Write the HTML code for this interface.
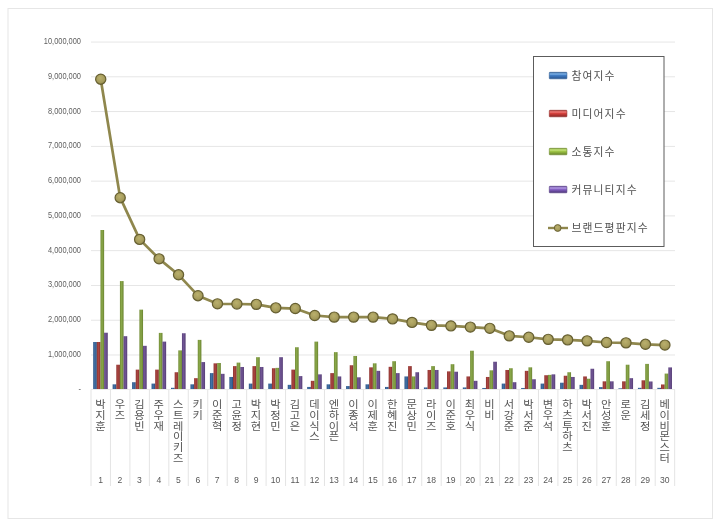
<!DOCTYPE html>
<html lang="ko"><head><meta charset="utf-8"><title>브랜드평판지수</title>
<style>
html,body{margin:0;padding:0;background:#fff;}
body{width:720px;height:526px;overflow:hidden;}
svg{display:block;}
text{font-family:"Liberation Sans","Noto Sans CJK KR","NanumGothic",sans-serif;}
.ax{font-size:7.45px;fill:#5e5e5e;}
.num{font-size:8.6px;fill:#595959;}
.nm{font-size:10px;fill:#555555;}
.lg{font-size:10.8px;fill:#505050;letter-spacing:1.1px;}
</style></head><body>
<svg width="720" height="526" viewBox="0 0 720 526">
<defs>
<linearGradient id="gb" x1="0" x2="1" y1="0" y2="0"><stop offset="0" stop-color="#2e5686"/><stop offset=".45" stop-color="#4272a8"/><stop offset="1" stop-color="#2b4f7c"/></linearGradient>
<linearGradient id="gr" x1="0" x2="1" y1="0" y2="0"><stop offset="0" stop-color="#8f3431"/><stop offset=".45" stop-color="#ab4541"/><stop offset="1" stop-color="#842f2c"/></linearGradient>
<linearGradient id="gg" x1="0" x2="1" y1="0" y2="0"><stop offset="0" stop-color="#728c35"/><stop offset=".45" stop-color="#8aa84a"/><stop offset="1" stop-color="#6a8330"/></linearGradient>
<linearGradient id="gp" x1="0" x2="1" y1="0" y2="0"><stop offset="0" stop-color="#5b427d"/><stop offset=".45" stop-color="#715695"/><stop offset="1" stop-color="#543c74"/></linearGradient>
<radialGradient id="gm" cx=".45" cy=".38" r=".62"><stop offset="0" stop-color="#bab06d"/><stop offset=".7" stop-color="#a59b5b"/><stop offset="1" stop-color="#8a8248"/></radialGradient>
<linearGradient id="lb" x1="0" x2="0" y1="0" y2="1"><stop offset="0" stop-color="#35639c"/><stop offset=".25" stop-color="#7db2e8"/><stop offset=".5" stop-color="#3f7ac2"/><stop offset="1" stop-color="#2a5690"/></linearGradient>
<linearGradient id="lr" x1="0" x2="0" y1="0" y2="1"><stop offset="0" stop-color="#a83430"/><stop offset=".25" stop-color="#f07a76"/><stop offset=".5" stop-color="#d23f3b"/><stop offset="1" stop-color="#8a2725"/></linearGradient>
<linearGradient id="lgn" x1="0" x2="0" y1="0" y2="1"><stop offset="0" stop-color="#7f9f33"/><stop offset=".25" stop-color="#c6e57c"/><stop offset=".5" stop-color="#9cc244"/><stop offset="1" stop-color="#66822a"/></linearGradient>
<linearGradient id="lp" x1="0" x2="0" y1="0" y2="1"><stop offset="0" stop-color="#65479a"/><stop offset=".25" stop-color="#b59ce6"/><stop offset=".5" stop-color="#8460c2"/><stop offset="1" stop-color="#4c3478"/></linearGradient>
</defs>
<rect x="0" y="0" width="720" height="526" fill="#ffffff"/>
<rect x="8" y="8.5" width="704.5" height="510" fill="#ffffff" stroke="#e6e6e6" stroke-width="1"/>

<text class="ax" transform="translate(81,391.70) scale(1,1.12)" x="0" y="0" text-anchor="end">-</text>
<rect x="91" y="354.53" width="584" height="0.9" fill="#e3e3e3"/>
<text class="ax" transform="translate(81,356.93) scale(1,1.12)" x="0" y="0" text-anchor="end">1,000,000</text>
<rect x="91" y="319.76" width="584" height="0.9" fill="#e3e3e3"/>
<text class="ax" transform="translate(81,322.16) scale(1,1.12)" x="0" y="0" text-anchor="end">2,000,000</text>
<rect x="91" y="284.99" width="584" height="0.9" fill="#e3e3e3"/>
<text class="ax" transform="translate(81,287.39) scale(1,1.12)" x="0" y="0" text-anchor="end">3,000,000</text>
<rect x="91" y="250.22" width="584" height="0.9" fill="#e3e3e3"/>
<text class="ax" transform="translate(81,252.62) scale(1,1.12)" x="0" y="0" text-anchor="end">4,000,000</text>
<rect x="91" y="215.45" width="584" height="0.9" fill="#e3e3e3"/>
<text class="ax" transform="translate(81,217.85) scale(1,1.12)" x="0" y="0" text-anchor="end">5,000,000</text>
<rect x="91" y="180.68" width="584" height="0.9" fill="#e3e3e3"/>
<text class="ax" transform="translate(81,183.08) scale(1,1.12)" x="0" y="0" text-anchor="end">6,000,000</text>
<rect x="91" y="145.91" width="584" height="0.9" fill="#e3e3e3"/>
<text class="ax" transform="translate(81,148.31) scale(1,1.12)" x="0" y="0" text-anchor="end">7,000,000</text>
<rect x="91" y="111.14" width="584" height="0.9" fill="#e3e3e3"/>
<text class="ax" transform="translate(81,113.54) scale(1,1.12)" x="0" y="0" text-anchor="end">8,000,000</text>
<rect x="91" y="76.37" width="584" height="0.9" fill="#e3e3e3"/>
<text class="ax" transform="translate(81,78.77) scale(1,1.12)" x="0" y="0" text-anchor="end">9,000,000</text>
<rect x="91" y="41.60" width="584" height="0.9" fill="#e3e3e3"/>
<text class="ax" transform="translate(81,44.00) scale(1,1.12)" x="0" y="0" text-anchor="end">10,000,000</text>
<rect x="91" y="389.00" width="584" height="1" fill="#ebebeb"/>
<rect x="90.50" y="389.50" width="1" height="96.50" fill="#e4e4e4"/>
<rect x="109.95" y="389.50" width="1" height="96.50" fill="#e4e4e4"/>
<rect x="129.41" y="389.50" width="1" height="96.50" fill="#e4e4e4"/>
<rect x="148.87" y="389.50" width="1" height="96.50" fill="#e4e4e4"/>
<rect x="168.32" y="389.50" width="1" height="96.50" fill="#e4e4e4"/>
<rect x="187.77" y="389.50" width="1" height="96.50" fill="#e4e4e4"/>
<rect x="207.23" y="389.50" width="1" height="96.50" fill="#e4e4e4"/>
<rect x="226.69" y="389.50" width="1" height="96.50" fill="#e4e4e4"/>
<rect x="246.14" y="389.50" width="1" height="96.50" fill="#e4e4e4"/>
<rect x="265.59" y="389.50" width="1" height="96.50" fill="#e4e4e4"/>
<rect x="285.05" y="389.50" width="1" height="96.50" fill="#e4e4e4"/>
<rect x="304.50" y="389.50" width="1" height="96.50" fill="#e4e4e4"/>
<rect x="323.96" y="389.50" width="1" height="96.50" fill="#e4e4e4"/>
<rect x="343.41" y="389.50" width="1" height="96.50" fill="#e4e4e4"/>
<rect x="362.87" y="389.50" width="1" height="96.50" fill="#e4e4e4"/>
<rect x="382.32" y="389.50" width="1" height="96.50" fill="#e4e4e4"/>
<rect x="401.78" y="389.50" width="1" height="96.50" fill="#e4e4e4"/>
<rect x="421.23" y="389.50" width="1" height="96.50" fill="#e4e4e4"/>
<rect x="440.69" y="389.50" width="1" height="96.50" fill="#e4e4e4"/>
<rect x="460.14" y="389.50" width="1" height="96.50" fill="#e4e4e4"/>
<rect x="479.60" y="389.50" width="1" height="96.50" fill="#e4e4e4"/>
<rect x="499.05" y="389.50" width="1" height="96.50" fill="#e4e4e4"/>
<rect x="518.51" y="389.50" width="1" height="96.50" fill="#e4e4e4"/>
<rect x="537.96" y="389.50" width="1" height="96.50" fill="#e4e4e4"/>
<rect x="557.42" y="389.50" width="1" height="96.50" fill="#e4e4e4"/>
<rect x="576.88" y="389.50" width="1" height="96.50" fill="#e4e4e4"/>
<rect x="596.33" y="389.50" width="1" height="96.50" fill="#e4e4e4"/>
<rect x="615.78" y="389.50" width="1" height="96.50" fill="#e4e4e4"/>
<rect x="635.24" y="389.50" width="1" height="96.50" fill="#e4e4e4"/>
<rect x="654.69" y="389.50" width="1" height="96.50" fill="#e4e4e4"/>
<rect x="674.15" y="389.50" width="1" height="96.50" fill="#e4e4e4"/>
<rect x="93.18" y="342.00" width="3.65" height="47.00" fill="url(#gb)"/>
<rect x="96.83" y="342.00" width="3.65" height="47.00" fill="url(#gr)"/>
<rect x="100.48" y="230.00" width="3.65" height="159.00" fill="url(#gg)"/>
<rect x="104.13" y="332.72" width="3.65" height="56.28" fill="url(#gp)"/>
<rect x="112.63" y="384.32" width="3.65" height="4.68" fill="url(#gb)"/>
<rect x="116.28" y="364.72" width="3.65" height="24.28" fill="url(#gr)"/>
<rect x="119.93" y="281.08" width="3.65" height="107.92" fill="url(#gg)"/>
<rect x="123.58" y="336.19" width="3.65" height="52.81" fill="url(#gp)"/>
<rect x="132.09" y="382.20" width="3.65" height="6.80" fill="url(#gb)"/>
<rect x="135.74" y="369.62" width="3.65" height="19.38" fill="url(#gr)"/>
<rect x="139.39" y="309.64" width="3.65" height="79.36" fill="url(#gg)"/>
<rect x="143.04" y="345.82" width="3.65" height="43.18" fill="url(#gp)"/>
<rect x="151.54" y="383.59" width="3.65" height="5.41" fill="url(#gb)"/>
<rect x="155.19" y="369.62" width="3.65" height="19.38" fill="url(#gr)"/>
<rect x="158.84" y="332.89" width="3.65" height="56.11" fill="url(#gg)"/>
<rect x="162.49" y="341.61" width="3.65" height="47.39" fill="url(#gp)"/>
<rect x="171.00" y="387.80" width="3.65" height="1.20" fill="url(#gb)"/>
<rect x="174.65" y="372.23" width="3.65" height="16.77" fill="url(#gr)"/>
<rect x="178.30" y="350.37" width="3.65" height="38.63" fill="url(#gg)"/>
<rect x="181.95" y="333.24" width="3.65" height="55.76" fill="url(#gp)"/>
<rect x="190.45" y="384.32" width="3.65" height="4.68" fill="url(#gb)"/>
<rect x="194.10" y="378.17" width="3.65" height="10.83" fill="url(#gr)"/>
<rect x="197.75" y="339.88" width="3.65" height="49.12" fill="url(#gg)"/>
<rect x="201.40" y="362.08" width="3.65" height="26.92" fill="url(#gp)"/>
<rect x="209.91" y="373.10" width="3.65" height="15.90" fill="url(#gb)"/>
<rect x="213.56" y="363.33" width="3.65" height="25.67" fill="url(#gr)"/>
<rect x="217.21" y="362.99" width="3.65" height="26.01" fill="url(#gg)"/>
<rect x="220.86" y="373.83" width="3.65" height="15.17" fill="url(#gp)"/>
<rect x="229.36" y="376.96" width="3.65" height="12.04" fill="url(#gb)"/>
<rect x="233.01" y="366.11" width="3.65" height="22.89" fill="url(#gr)"/>
<rect x="236.66" y="362.60" width="3.65" height="26.40" fill="url(#gg)"/>
<rect x="240.31" y="366.98" width="3.65" height="22.02" fill="url(#gp)"/>
<rect x="248.82" y="383.59" width="3.65" height="5.41" fill="url(#gb)"/>
<rect x="252.47" y="366.11" width="3.65" height="22.89" fill="url(#gr)"/>
<rect x="256.12" y="357.18" width="3.65" height="31.82" fill="url(#gg)"/>
<rect x="259.77" y="366.98" width="3.65" height="22.02" fill="url(#gp)"/>
<rect x="268.27" y="383.59" width="3.65" height="5.41" fill="url(#gb)"/>
<rect x="271.92" y="368.23" width="3.65" height="20.77" fill="url(#gr)"/>
<rect x="275.57" y="367.85" width="3.65" height="21.15" fill="url(#gg)"/>
<rect x="279.22" y="357.18" width="3.65" height="31.82" fill="url(#gp)"/>
<rect x="287.73" y="384.84" width="3.65" height="4.16" fill="url(#gb)"/>
<rect x="291.38" y="369.62" width="3.65" height="19.38" fill="url(#gr)"/>
<rect x="295.03" y="347.24" width="3.65" height="41.76" fill="url(#gg)"/>
<rect x="298.68" y="376.09" width="3.65" height="12.91" fill="url(#gp)"/>
<rect x="307.18" y="386.93" width="3.65" height="2.07" fill="url(#gb)"/>
<rect x="310.83" y="380.81" width="3.65" height="8.19" fill="url(#gr)"/>
<rect x="314.48" y="341.61" width="3.65" height="47.39" fill="url(#gg)"/>
<rect x="318.13" y="374.35" width="3.65" height="14.65" fill="url(#gp)"/>
<rect x="326.64" y="384.32" width="3.65" height="4.68" fill="url(#gb)"/>
<rect x="330.29" y="373.10" width="3.65" height="15.90" fill="url(#gr)"/>
<rect x="333.94" y="352.14" width="3.65" height="36.86" fill="url(#gg)"/>
<rect x="337.59" y="376.43" width="3.65" height="12.57" fill="url(#gp)"/>
<rect x="346.09" y="386.06" width="3.65" height="2.94" fill="url(#gb)"/>
<rect x="349.74" y="365.24" width="3.65" height="23.76" fill="url(#gr)"/>
<rect x="353.39" y="355.97" width="3.65" height="33.03" fill="url(#gg)"/>
<rect x="357.04" y="377.30" width="3.65" height="11.70" fill="url(#gp)"/>
<rect x="365.55" y="384.32" width="3.65" height="4.68" fill="url(#gb)"/>
<rect x="369.20" y="367.33" width="3.65" height="21.67" fill="url(#gr)"/>
<rect x="372.85" y="363.33" width="3.65" height="25.67" fill="url(#gg)"/>
<rect x="376.50" y="370.84" width="3.65" height="18.16" fill="url(#gp)"/>
<rect x="385.00" y="386.93" width="3.65" height="2.07" fill="url(#gb)"/>
<rect x="388.65" y="366.81" width="3.65" height="22.19" fill="url(#gr)"/>
<rect x="392.30" y="361.21" width="3.65" height="27.79" fill="url(#gg)"/>
<rect x="395.95" y="373.10" width="3.65" height="15.90" fill="url(#gp)"/>
<rect x="404.46" y="376.43" width="3.65" height="12.57" fill="url(#gb)"/>
<rect x="408.11" y="366.11" width="3.65" height="22.89" fill="url(#gr)"/>
<rect x="411.76" y="376.43" width="3.65" height="12.57" fill="url(#gg)"/>
<rect x="415.41" y="372.23" width="3.65" height="16.77" fill="url(#gp)"/>
<rect x="423.91" y="387.45" width="3.65" height="1.55" fill="url(#gb)"/>
<rect x="427.56" y="369.97" width="3.65" height="19.03" fill="url(#gr)"/>
<rect x="431.21" y="366.11" width="3.65" height="22.89" fill="url(#gg)"/>
<rect x="434.86" y="369.97" width="3.65" height="19.03" fill="url(#gp)"/>
<rect x="443.37" y="387.45" width="3.65" height="1.55" fill="url(#gb)"/>
<rect x="447.02" y="371.36" width="3.65" height="17.64" fill="url(#gr)"/>
<rect x="450.67" y="364.20" width="3.65" height="24.80" fill="url(#gg)"/>
<rect x="454.32" y="371.71" width="3.65" height="17.29" fill="url(#gp)"/>
<rect x="462.82" y="387.45" width="3.65" height="1.55" fill="url(#gb)"/>
<rect x="466.47" y="376.43" width="3.65" height="12.57" fill="url(#gr)"/>
<rect x="470.12" y="350.72" width="3.65" height="38.28" fill="url(#gg)"/>
<rect x="473.77" y="380.81" width="3.65" height="8.19" fill="url(#gp)"/>
<rect x="482.28" y="387.97" width="3.65" height="1.03" fill="url(#gb)"/>
<rect x="485.93" y="376.96" width="3.65" height="12.04" fill="url(#gr)"/>
<rect x="489.58" y="370.32" width="3.65" height="18.68" fill="url(#gg)"/>
<rect x="493.23" y="361.73" width="3.65" height="27.27" fill="url(#gp)"/>
<rect x="501.73" y="383.59" width="3.65" height="5.41" fill="url(#gb)"/>
<rect x="505.38" y="369.97" width="3.65" height="19.03" fill="url(#gr)"/>
<rect x="509.03" y="368.23" width="3.65" height="20.77" fill="url(#gg)"/>
<rect x="512.68" y="382.20" width="3.65" height="6.80" fill="url(#gp)"/>
<rect x="521.19" y="387.97" width="3.65" height="1.03" fill="url(#gb)"/>
<rect x="524.84" y="370.84" width="3.65" height="18.16" fill="url(#gr)"/>
<rect x="528.49" y="367.33" width="3.65" height="21.67" fill="url(#gg)"/>
<rect x="532.14" y="379.25" width="3.65" height="9.75" fill="url(#gp)"/>
<rect x="540.64" y="383.59" width="3.65" height="5.41" fill="url(#gb)"/>
<rect x="544.29" y="375.22" width="3.65" height="13.78" fill="url(#gr)"/>
<rect x="547.94" y="374.87" width="3.65" height="14.13" fill="url(#gg)"/>
<rect x="551.59" y="374.35" width="3.65" height="14.65" fill="url(#gp)"/>
<rect x="560.10" y="382.72" width="3.65" height="6.28" fill="url(#gb)"/>
<rect x="563.75" y="375.74" width="3.65" height="13.26" fill="url(#gr)"/>
<rect x="567.40" y="372.23" width="3.65" height="16.77" fill="url(#gg)"/>
<rect x="571.05" y="376.96" width="3.65" height="12.04" fill="url(#gp)"/>
<rect x="579.55" y="384.84" width="3.65" height="4.16" fill="url(#gb)"/>
<rect x="583.20" y="376.43" width="3.65" height="12.57" fill="url(#gr)"/>
<rect x="586.85" y="378.73" width="3.65" height="10.27" fill="url(#gg)"/>
<rect x="590.50" y="368.75" width="3.65" height="20.25" fill="url(#gp)"/>
<rect x="599.01" y="387.10" width="3.65" height="1.90" fill="url(#gb)"/>
<rect x="602.66" y="381.33" width="3.65" height="7.67" fill="url(#gr)"/>
<rect x="606.31" y="361.21" width="3.65" height="27.79" fill="url(#gg)"/>
<rect x="609.96" y="381.33" width="3.65" height="7.67" fill="url(#gp)"/>
<rect x="618.46" y="388.32" width="3.65" height="0.68" fill="url(#gb)"/>
<rect x="622.11" y="381.33" width="3.65" height="7.67" fill="url(#gr)"/>
<rect x="625.76" y="364.72" width="3.65" height="24.28" fill="url(#gg)"/>
<rect x="629.41" y="378.17" width="3.65" height="10.83" fill="url(#gp)"/>
<rect x="637.92" y="387.83" width="3.65" height="1.17" fill="url(#gb)"/>
<rect x="641.57" y="380.29" width="3.65" height="8.71" fill="url(#gr)"/>
<rect x="645.22" y="363.89" width="3.65" height="25.11" fill="url(#gg)"/>
<rect x="648.87" y="381.47" width="3.65" height="7.53" fill="url(#gp)"/>
<rect x="657.37" y="387.83" width="3.65" height="1.17" fill="url(#gb)"/>
<rect x="661.02" y="384.46" width="3.65" height="4.54" fill="url(#gr)"/>
<rect x="664.67" y="373.58" width="3.65" height="15.42" fill="url(#gg)"/>
<rect x="668.32" y="367.40" width="3.65" height="21.60" fill="url(#gp)"/>
<polyline points="100.73,79.18 120.18,197.68 139.64,239.38 159.09,258.84 178.55,274.82 198.00,295.68 217.46,303.84 236.91,304.01 256.37,304.36 275.82,307.84 295.28,308.53 314.73,315.48 334.19,317.12 353.64,317.12 373.10,317.12 392.55,318.89 412.01,322.40 431.46,325.35 450.92,325.91 470.37,327.09 489.83,328.34 509.28,335.85 528.74,337.27 548.19,339.36 567.65,339.88 587.10,340.85 606.56,342.52 626.01,342.87 645.47,344.32 664.92,345.09" fill="none" stroke="#8f874d" stroke-width="2.7" stroke-linejoin="round" stroke-linecap="round"/>
<circle cx="100.73" cy="79.18" r="5.1" fill="url(#gm)" stroke="#665f31" stroke-width="1.2"/>
<circle cx="120.18" cy="197.68" r="5.1" fill="url(#gm)" stroke="#665f31" stroke-width="1.2"/>
<circle cx="139.64" cy="239.38" r="5.1" fill="url(#gm)" stroke="#665f31" stroke-width="1.2"/>
<circle cx="159.09" cy="258.84" r="5.1" fill="url(#gm)" stroke="#665f31" stroke-width="1.2"/>
<circle cx="178.55" cy="274.82" r="5.1" fill="url(#gm)" stroke="#665f31" stroke-width="1.2"/>
<circle cx="198.00" cy="295.68" r="5.1" fill="url(#gm)" stroke="#665f31" stroke-width="1.2"/>
<circle cx="217.46" cy="303.84" r="5.1" fill="url(#gm)" stroke="#665f31" stroke-width="1.2"/>
<circle cx="236.91" cy="304.01" r="5.1" fill="url(#gm)" stroke="#665f31" stroke-width="1.2"/>
<circle cx="256.37" cy="304.36" r="5.1" fill="url(#gm)" stroke="#665f31" stroke-width="1.2"/>
<circle cx="275.82" cy="307.84" r="5.1" fill="url(#gm)" stroke="#665f31" stroke-width="1.2"/>
<circle cx="295.28" cy="308.53" r="5.1" fill="url(#gm)" stroke="#665f31" stroke-width="1.2"/>
<circle cx="314.73" cy="315.48" r="5.1" fill="url(#gm)" stroke="#665f31" stroke-width="1.2"/>
<circle cx="334.19" cy="317.12" r="5.1" fill="url(#gm)" stroke="#665f31" stroke-width="1.2"/>
<circle cx="353.64" cy="317.12" r="5.1" fill="url(#gm)" stroke="#665f31" stroke-width="1.2"/>
<circle cx="373.10" cy="317.12" r="5.1" fill="url(#gm)" stroke="#665f31" stroke-width="1.2"/>
<circle cx="392.55" cy="318.89" r="5.1" fill="url(#gm)" stroke="#665f31" stroke-width="1.2"/>
<circle cx="412.01" cy="322.40" r="5.1" fill="url(#gm)" stroke="#665f31" stroke-width="1.2"/>
<circle cx="431.46" cy="325.35" r="5.1" fill="url(#gm)" stroke="#665f31" stroke-width="1.2"/>
<circle cx="450.92" cy="325.91" r="5.1" fill="url(#gm)" stroke="#665f31" stroke-width="1.2"/>
<circle cx="470.37" cy="327.09" r="5.1" fill="url(#gm)" stroke="#665f31" stroke-width="1.2"/>
<circle cx="489.83" cy="328.34" r="5.1" fill="url(#gm)" stroke="#665f31" stroke-width="1.2"/>
<circle cx="509.28" cy="335.85" r="5.1" fill="url(#gm)" stroke="#665f31" stroke-width="1.2"/>
<circle cx="528.74" cy="337.27" r="5.1" fill="url(#gm)" stroke="#665f31" stroke-width="1.2"/>
<circle cx="548.19" cy="339.36" r="5.1" fill="url(#gm)" stroke="#665f31" stroke-width="1.2"/>
<circle cx="567.65" cy="339.88" r="5.1" fill="url(#gm)" stroke="#665f31" stroke-width="1.2"/>
<circle cx="587.10" cy="340.85" r="5.1" fill="url(#gm)" stroke="#665f31" stroke-width="1.2"/>
<circle cx="606.56" cy="342.52" r="5.1" fill="url(#gm)" stroke="#665f31" stroke-width="1.2"/>
<circle cx="626.01" cy="342.87" r="5.1" fill="url(#gm)" stroke="#665f31" stroke-width="1.2"/>
<circle cx="645.47" cy="344.32" r="5.1" fill="url(#gm)" stroke="#665f31" stroke-width="1.2"/>
<circle cx="664.92" cy="345.09" r="5.1" fill="url(#gm)" stroke="#665f31" stroke-width="1.2"/>
<text class="nm" text-anchor="middle" transform="translate(100.43,0) scale(1.13,1)" x="0 0 0" y="407.90 418.75 429.60">박지훈</text>
<text class="num" text-anchor="middle" x="100.53" y="483">1</text>
<text class="nm" text-anchor="middle" transform="translate(119.88,0) scale(1.13,1)" x="0 0" y="407.90 418.75">우즈</text>
<text class="num" text-anchor="middle" x="119.98" y="483">2</text>
<text class="nm" text-anchor="middle" transform="translate(139.34,0) scale(1.13,1)" x="0 0 0" y="407.90 418.75 429.60">김용빈</text>
<text class="num" text-anchor="middle" x="139.44" y="483">3</text>
<text class="nm" text-anchor="middle" transform="translate(158.79,0) scale(1.13,1)" x="0 0 0" y="407.90 418.75 429.60">주우재</text>
<text class="num" text-anchor="middle" x="158.89" y="483">4</text>
<text class="nm" text-anchor="middle" transform="translate(178.25,0) scale(1.13,1)" x="0 0 0 0 0 0" y="407.90 418.75 429.60 440.45 451.30 462.15">스트레이키즈</text>
<text class="num" text-anchor="middle" x="178.35" y="483">5</text>
<text class="nm" text-anchor="middle" transform="translate(197.70,0) scale(1.13,1)" x="0 0" y="407.90 418.75">키키</text>
<text class="num" text-anchor="middle" x="197.80" y="483">6</text>
<text class="nm" text-anchor="middle" transform="translate(217.16,0) scale(1.13,1)" x="0 0 0" y="407.90 418.75 429.60">이준혁</text>
<text class="num" text-anchor="middle" x="217.26" y="483">7</text>
<text class="nm" text-anchor="middle" transform="translate(236.61,0) scale(1.13,1)" x="0 0 0" y="407.90 418.75 429.60">고윤정</text>
<text class="num" text-anchor="middle" x="236.71" y="483">8</text>
<text class="nm" text-anchor="middle" transform="translate(256.07,0) scale(1.13,1)" x="0 0 0" y="407.90 418.75 429.60">박지현</text>
<text class="num" text-anchor="middle" x="256.17" y="483">9</text>
<text class="nm" text-anchor="middle" transform="translate(275.52,0) scale(1.13,1)" x="0 0 0" y="407.90 418.75 429.60">박정민</text>
<text class="num" text-anchor="middle" x="275.62" y="483">10</text>
<text class="nm" text-anchor="middle" transform="translate(294.98,0) scale(1.13,1)" x="0 0 0" y="407.90 418.75 429.60">김고은</text>
<text class="num" text-anchor="middle" x="295.08" y="483">11</text>
<text class="nm" text-anchor="middle" transform="translate(314.43,0) scale(1.13,1)" x="0 0 0 0" y="407.90 418.75 429.60 440.45">데이식스</text>
<text class="num" text-anchor="middle" x="314.53" y="483">12</text>
<text class="nm" text-anchor="middle" transform="translate(333.89,0) scale(1.13,1)" x="0 0 0 0" y="407.90 418.75 429.60 440.45">엔하이픈</text>
<text class="num" text-anchor="middle" x="333.99" y="483">13</text>
<text class="nm" text-anchor="middle" transform="translate(353.34,0) scale(1.13,1)" x="0 0 0" y="407.90 418.75 429.60">이종석</text>
<text class="num" text-anchor="middle" x="353.44" y="483">14</text>
<text class="nm" text-anchor="middle" transform="translate(372.80,0) scale(1.13,1)" x="0 0 0" y="407.90 418.75 429.60">이제훈</text>
<text class="num" text-anchor="middle" x="372.90" y="483">15</text>
<text class="nm" text-anchor="middle" transform="translate(392.25,0) scale(1.13,1)" x="0 0 0" y="407.90 418.75 429.60">한혜진</text>
<text class="num" text-anchor="middle" x="392.35" y="483">16</text>
<text class="nm" text-anchor="middle" transform="translate(411.71,0) scale(1.13,1)" x="0 0 0" y="407.90 418.75 429.60">문상민</text>
<text class="num" text-anchor="middle" x="411.81" y="483">17</text>
<text class="nm" text-anchor="middle" transform="translate(431.16,0) scale(1.13,1)" x="0 0 0" y="407.90 418.75 429.60">라이즈</text>
<text class="num" text-anchor="middle" x="431.26" y="483">18</text>
<text class="nm" text-anchor="middle" transform="translate(450.62,0) scale(1.13,1)" x="0 0 0" y="407.90 418.75 429.60">이준호</text>
<text class="num" text-anchor="middle" x="450.72" y="483">19</text>
<text class="nm" text-anchor="middle" transform="translate(470.07,0) scale(1.13,1)" x="0 0 0" y="407.90 418.75 429.60">최우식</text>
<text class="num" text-anchor="middle" x="470.17" y="483">20</text>
<text class="nm" text-anchor="middle" transform="translate(489.53,0) scale(1.13,1)" x="0 0" y="407.90 418.75">비비</text>
<text class="num" text-anchor="middle" x="489.63" y="483">21</text>
<text class="nm" text-anchor="middle" transform="translate(508.98,0) scale(1.13,1)" x="0 0 0" y="407.90 418.75 429.60">서강준</text>
<text class="num" text-anchor="middle" x="509.08" y="483">22</text>
<text class="nm" text-anchor="middle" transform="translate(528.44,0) scale(1.13,1)" x="0 0 0" y="407.90 418.75 429.60">박서준</text>
<text class="num" text-anchor="middle" x="528.54" y="483">23</text>
<text class="nm" text-anchor="middle" transform="translate(547.89,0) scale(1.13,1)" x="0 0 0" y="407.90 418.75 429.60">변우석</text>
<text class="num" text-anchor="middle" x="547.99" y="483">24</text>
<text class="nm" text-anchor="middle" transform="translate(567.35,0) scale(1.13,1)" x="0 0 0 0 0" y="407.90 418.75 429.60 440.45 451.30">하츠투하츠</text>
<text class="num" text-anchor="middle" x="567.45" y="483">25</text>
<text class="nm" text-anchor="middle" transform="translate(586.80,0) scale(1.13,1)" x="0 0 0" y="407.90 418.75 429.60">박서진</text>
<text class="num" text-anchor="middle" x="586.90" y="483">26</text>
<text class="nm" text-anchor="middle" transform="translate(606.26,0) scale(1.13,1)" x="0 0 0" y="407.90 418.75 429.60">안성훈</text>
<text class="num" text-anchor="middle" x="606.36" y="483">27</text>
<text class="nm" text-anchor="middle" transform="translate(625.71,0) scale(1.13,1)" x="0 0" y="407.90 418.75">로운</text>
<text class="num" text-anchor="middle" x="625.81" y="483">28</text>
<text class="nm" text-anchor="middle" transform="translate(645.17,0) scale(1.13,1)" x="0 0 0" y="407.90 418.75 429.60">김세정</text>
<text class="num" text-anchor="middle" x="645.27" y="483">29</text>
<text class="nm" text-anchor="middle" transform="translate(664.62,0) scale(1.13,1)" x="0 0 0 0 0 0" y="407.90 418.75 429.60 440.45 451.30 462.15">베이비몬스터</text>
<text class="num" text-anchor="middle" x="664.72" y="483">30</text>
<rect x="533.5" y="56.5" width="130.5" height="190" fill="#ffffff" stroke="#5c5c5c" stroke-width="1"/>
<rect x="549.3" y="72.3" width="17.6" height="6.5" rx="0.6" fill="url(#lb)" stroke="#2c5a92" stroke-width="0.6"/>
<text class="lg" x="571.5" y="80.4">참여지수</text>
<rect x="549.3" y="110.3" width="17.6" height="6.5" rx="0.6" fill="url(#lr)" stroke="#8f2a28" stroke-width="0.6"/>
<text class="lg" x="571.5" y="118.4">미디어지수</text>
<rect x="549.3" y="148.3" width="17.6" height="6.5" rx="0.6" fill="url(#lgn)" stroke="#6b882d" stroke-width="0.6"/>
<text class="lg" x="571.5" y="156.4">소통지수</text>
<rect x="549.3" y="186.3" width="17.6" height="6.5" rx="0.6" fill="url(#lp)" stroke="#50377e" stroke-width="0.6"/>
<text class="lg" x="571.5" y="194.4">커뮤니티지수</text>
<rect x="548" y="226.8" width="20" height="2.4" fill="#8f874d"/>
<circle cx="557.7" cy="228" r="3.4" fill="url(#gm)" stroke="#665f31" stroke-width="0.9"/>
<text class="lg" x="571.5" y="232.4">브랜드평판지수</text>
</svg></body></html>
